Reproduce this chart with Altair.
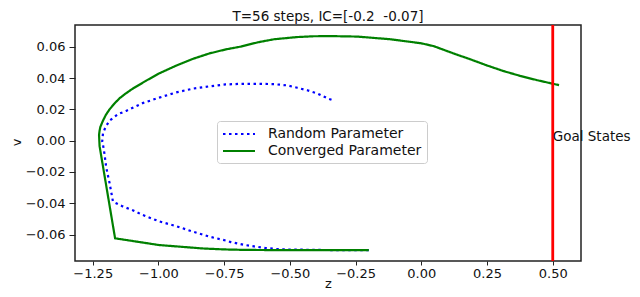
import altair as alt
import pandas as pd

# Random Parameter trajectory (z, v), in time order
rand_z = [-0.200, -0.350, -0.497, -0.547, -0.592, -0.636, -0.674, -0.725, -0.744, -0.807, -0.870,
          -0.933, -0.997, -1.060, -1.098, -1.136, -1.173, -1.186, -1.199, -1.205, -1.211, -1.214,
          -1.211, -1.201, -1.186, -1.154, -1.123, -1.060, -0.997, -0.933, -0.870, -0.807, -0.744,
          -0.687, -0.611, -0.560, -0.509, -0.472, -0.434, -0.396, -0.352, -0.335]
rand_v = [-0.0700, -0.0699, -0.0696, -0.0693, -0.0686, -0.0676, -0.0666, -0.0648, -0.0638, -0.0613, -0.0581,
          -0.0546, -0.0516, -0.0475, -0.0445, -0.0420, -0.0390, -0.0271, -0.0169, -0.0088, -0.0026, -0.0005,
          0.0047, 0.0088, 0.0128, 0.0169, 0.0190, 0.0240, 0.0275, 0.0308, 0.0332, 0.0347, 0.0359,
          0.0363, 0.0363, 0.0361, 0.0353, 0.0338, 0.0322, 0.0302, 0.0267, 0.0257]

# Converged Parameter trajectory (z, v), in time order
conv_z = [-0.200, -0.500, -0.675, -0.750, -0.831, -0.998, -1.165, -1.224, -1.226, -1.224, -1.221,
          -1.211, -1.200, -1.186, -1.168, -1.148, -1.124, -1.098, -1.047, -0.997, -0.933, -0.870,
          -0.807, -0.744, -0.687, -0.623, -0.560, -0.472, -0.410, -0.345, -0.244, -0.118, 0.000,
          0.047, 0.123, 0.186, 0.249, 0.312, 0.376, 0.439, 0.502, 0.524]
conv_v = [-0.0700, -0.0700, -0.0698, -0.0695, -0.0689, -0.0667, -0.0624, -0.0035, 0.0037, 0.0063, 0.0088,
          0.0128, 0.0165, 0.0200, 0.0236, 0.0271, 0.0302, 0.0332, 0.0383, 0.0430, 0.0479, 0.0522,
          0.0557, 0.0583, 0.0601, 0.0628, 0.0648, 0.0662, 0.0667, 0.0668, 0.0665, 0.0648, 0.0622,
          0.0604, 0.0557, 0.0520, 0.0481, 0.0445, 0.0414, 0.0387, 0.0363, 0.0355]

series = ["Random Parameter", "Converged Parameter"]
colors = ["#0000ff", "#008000"]
dashes = [[2.5, 3.5], [1, 0]]

x_ticks = [-1.25, -1.0, -0.75, -0.5, -0.25, 0.0, 0.25, 0.5]
y_ticks = [-0.06, -0.04, -0.02, 0.0, 0.02, 0.04, 0.06]
goal_z = 0.5
goal_label = "Goal States"
title_text = "T=56 steps, IC=[-0.2\u00a0\u00a0-0.07]"

rows = []
for i, (z, v) in enumerate(zip(rand_z, rand_v)):
    rows.append({"z": z, "v": v, "series": series[0], "idx": i})
for i, (z, v) in enumerate(zip(conv_z, conv_v)):
    rows.append({"z": z, "v": v, "series": series[1], "idx": i})
df = pd.DataFrame(rows)

FONT = "DejaVu Sans"
xscale = alt.Scale(domain=[-1.3175, 0.6075], nice=False, zero=False)
yscale = alt.Scale(domain=[-0.0769, 0.0739], nice=False, zero=False)


def make_legend():
    return alt.Legend(title=None, orient="none", legendX=142, legendY=96,
                      symbolType="M-1,0L3.57,0", symbolSize=196,
                      symbolStrokeWidth=2, labelOffset=30,
                      padding=5, rowPadding=2, labelFontSize=14,
                      labelFont=FONT, labelColor="#111",
                      strokeColor="#cccccc", fillColor="white",
                      cornerRadius=3)


lines = alt.Chart(df).mark_line(strokeWidth=2.2, strokeCap="butt").encode(
    x=alt.X("z:Q", scale=xscale, title="z",
            axis=alt.Axis(values=x_ticks, tickCount=len(x_ticks), format=".2f", grid=False,
                          domain=False, labelOverlap=False,
                          tickSize=4, labelPadding=2, titleY=26, titleBaseline="alphabetic")),
    y=alt.Y("v:Q", scale=yscale, title="v",
            axis=alt.Axis(values=y_ticks, tickCount=len(y_ticks), format=".2f", grid=False,
                          domain=False, labelOverlap=False,
                          tickSize=6, labelPadding=4, titleX=-52, titleY=117)),
    color=alt.Color("series:N", scale=alt.Scale(domain=series, range=colors),
                    legend=make_legend()),
    strokeDash=alt.StrokeDash("series:N", scale=alt.Scale(domain=series, range=dashes),
                              legend=make_legend()),
    order=alt.Order("idx:Q"),
    detail="series:N",
)

goal_df = pd.DataFrame({"z": [goal_z], "v": [0.0], "label": [goal_label]})
rule = alt.Chart(goal_df).mark_rule(color="#ff0000", strokeWidth=2.8).encode(x="z:Q")
text = alt.Chart(goal_df).mark_text(align="left", baseline="alphabetic", font=FONT,
                                    fontSize=13.5, color="#111").encode(
    x="z:Q", y="v:Q", text="label:N")

chart = alt.layer(lines, rule, text).properties(
    width=506, height=236,
    autosize=alt.AutoSizeParams(type="none"),
    padding={"left": 67, "right": 51, "top": 17, "bottom": 28},
    title=alt.Title(title_text, font=FONT, fontSize=13.5, fontWeight="normal",
                    color="#111", anchor="middle", offset=0),
).configure_view(stroke="#222", strokeWidth=1.5).configure_axis(
    labelFont=FONT, labelFontSize=13, labelColor="#111", tickColor="#222",
    titleFont=FONT, titleFontSize=13, titleFontWeight="normal", titleColor="#111",
)

chart.save("out.html", embed_options={"renderer": "svg", "actions": False})
